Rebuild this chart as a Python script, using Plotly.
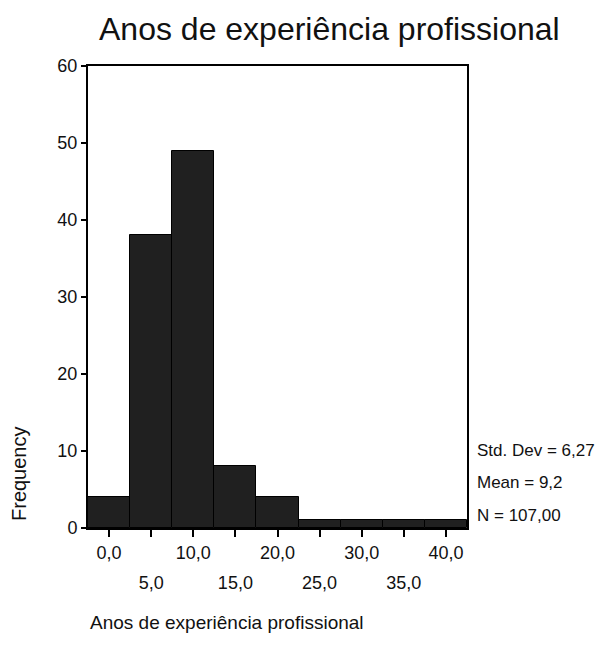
import plotly.graph_objects as go

# Data
bin_centers = [0, 5, 10, 15, 20, 25, 30, 35, 40]
counts = [4, 38, 49, 8, 4, 1, 1, 1, 1]
tick_vals_top = [0, 10, 20, 30, 40]
tick_text_top = ["0,0", "10,0", "20,0", "30,0", "40,0"]
tick_vals_bottom = [5, 15, 25, 35]
tick_text_bottom = ["5,0", "15,0", "25,0", "35,0"]
y_ticks = [0, 10, 20, 30, 40, 50, 60]
stats_lines = ["Std. Dev = 6,27", "Mean = 9,2", "N = 107,00"]
title_text = "Anos de experiência profissional"
x_title = "Anos de experiência profissional"
y_title = "Frequency"

FONT = "Liberation Sans, Arial, sans-serif"

fig = go.Figure()
fig.add_trace(go.Bar(
    x=bin_centers, y=counts, width=5,
    marker=dict(color="#202020", line=dict(color="#000000", width=1)),
    showlegend=False,
))
# invisible trace to activate xaxis2
fig.add_trace(go.Scatter(x=[bin_centers[0]], y=[0], xaxis="x2", mode="markers",
                         marker=dict(opacity=0), showlegend=False, hoverinfo="skip"))

W, H = 610, 655
L, R, T, B = 88, 143, 66, 127

fig.update_layout(
    width=W, height=H,
    margin=dict(l=L, r=R, t=T, b=B),
    paper_bgcolor="white", plot_bgcolor="white",
    font=dict(family=FONT, size=18, color="#111"),
    bargap=0,
    xaxis=dict(
        range=[-2.5, 42.5], tickvals=bin_centers,
        ticktext=[tick_text_top[tick_vals_top.index(v)] if v in tick_vals_top else "" for v in bin_centers],
        ticks="outside", ticklen=7, tickcolor="#000", tickwidth=1.5,
        showline=True, linecolor="#000", linewidth=2, mirror=True,
        showgrid=False, zeroline=False, ticklabelstandoff=0,
        tickfont=dict(size=18),
    ),
    xaxis2=dict(
        range=[-2.5, 42.5], overlaying="x", anchor="y", side="bottom",
        tickvals=tick_vals_bottom, ticktext=tick_text_bottom,
        ticks="", showline=False, showgrid=False, zeroline=False,
        ticklabelstandoff=42, tickfont=dict(size=18),
    ),
    yaxis=dict(
        range=[0, 60], tickvals=y_ticks,
        ticks="outside", ticklen=5, tickcolor="#000", tickwidth=1.5,
        showline=True, linecolor="#000", linewidth=2, mirror=True,
        showgrid=False, zeroline=False, tickfont=dict(size=18),
    ),
)

annotations = [
    dict(text=title_text, xref="paper", yref="paper",
         x=(329 - L) / (W - L - R), y=1 + (T - 29) / (H - T - B),
         xanchor="center", yanchor="middle", showarrow=False,
         font=dict(size=32, family=FONT, color="#111")),
    dict(text=x_title, xref="paper", yref="paper",
         x=0, y=-(622 - (H - B)) / (H - T - B),
         xanchor="left", yanchor="middle", showarrow=False,
         font=dict(size=19, family=FONT, color="#111")),
    dict(text=y_title, xref="paper", yref="paper",
         x=-(L - 19) / (W - L - R), y=(H - B - 474) / (H - T - B),
         xanchor="center", yanchor="middle", textangle=-90, showarrow=False,
         font=dict(size=20, family=FONT, color="#111")),
]
stat_y = [450, 482, 515]
for txt, py in zip(stats_lines, stat_y):
    annotations.append(dict(
        text=txt, xref="paper", yref="paper",
        x=1 + (475 - (W - R)) / (W - L - R), y=(H - B - py) / (H - T - B),
        xanchor="left", yanchor="middle", showarrow=False,
        font=dict(size=17, family=FONT, color="#111")))
fig.update_layout(annotations=annotations)

fig.write_html("out.html")
